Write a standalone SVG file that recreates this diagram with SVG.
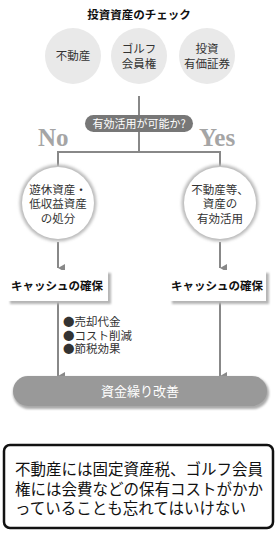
<svg xmlns="http://www.w3.org/2000/svg" width="277" height="533" viewBox="0 0 277 533">
<style>
.t{font-family:"Noto Sans CJK JP","Noto Sans CJK SC",sans-serif;fill:#333;text-anchor:middle}
.s{font-size:11.5px}
.b{font-weight:bold;fill:#111}
.w{fill:#fff}
.big{font-family:"Liberation Serif",serif;font-weight:bold;font-size:25px;fill:#a5a5a5}
.ln{stroke:#888;stroke-width:2;fill:none}
.top{fill:#e9e9e9}
</style>
<defs>
<marker id="ah" viewBox="0 0 10 10" refX="5" refY="9" markerWidth="10" markerHeight="8" orient="auto" markerUnits="userSpaceOnUse"><path d="M0,0 L10,0 L5,9 z" fill="#888"/></marker>
<filter id="glow" x="-30%" y="-30%" width="160%" height="160%"><feGaussianBlur stdDeviation="1.5"/></filter>
<filter id="sh" x="-10%" y="-20%" width="120%" height="140%"><feGaussianBlur stdDeviation="1"/></filter>
</defs>
<rect width="277" height="533" fill="#fff"/>
<text class="t b" x="139" y="19" font-size="11.5">投資資産のチェック</text>
<g id="n1"><circle class="top" cx="73" cy="56" r="28"/><text class="t s" x="73" y="60">不動産</text></g>
<g id="n2"><circle class="top" cx="139" cy="56" r="28"/><text class="t s" x="139" y="53">ゴルフ</text><text class="t s" x="139" y="68">会員権</text></g>
<g id="n3"><circle class="top" cx="207" cy="56" r="28"/><text class="t s" x="207" y="53">投資</text><text class="t s" x="207" y="68">有価証券</text></g>
<g id="connectors">
<path class="ln" d="M139,96 V152 M58,152 H220 M58,151 V166 M220,151 V166"/>
<path class="ln" d="M58,242 V268" marker-end="url(#ah)"/>
<path class="ln" d="M220,242 V268" marker-end="url(#ah)"/>
<path class="ln" d="M58,302 V376" marker-end="url(#ah)"/>
<path class="ln" d="M220,302 V376" marker-end="url(#ah)"/>
</g>
<g id="q"><rect x="85" y="115" width="108" height="17" rx="8.5" fill="#777"/><text class="t w" x="139" y="128" font-size="11">有効活用が可能か?</text></g>
<text class="big" x="38" y="146">No</text>
<text class="big" x="199" y="146">Yes</text>
<g id="no"><circle cx="58" cy="203" r="38.5" fill="#bbb" filter="url(#glow)"/><circle cx="58" cy="203" r="36" fill="#fff"/>
<text class="t s" x="58" y="194">遊休資産・</text><text class="t s" x="58" y="208">低収益資産</text><text class="t s" x="58" y="223">の処分</text></g>
<g id="yes"><circle cx="220" cy="203" r="38.5" fill="#bbb" filter="url(#glow)"/><circle cx="220" cy="203" r="36" fill="#fff"/>
<text class="t s" x="220" y="194">不動産等、</text><text class="t s" x="220" y="208">資産の</text><text class="t s" x="220" y="223">有効活用</text></g>
<g id="c1"><rect x="10" y="273" width="101" height="31" fill="#b5b5b5" filter="url(#sh)"/><rect x="7" y="270" width="101" height="31" fill="#fff"/><text class="t b" x="57" y="290" font-size="11.5">キャッシュの確保</text></g>
<g id="c2"><rect x="172" y="273" width="97" height="31" fill="#b5b5b5" filter="url(#sh)"/><rect x="169" y="270" width="97" height="31" fill="#fff"/><text class="t b" x="217" y="290" font-size="11.5">キャッシュの確保</text></g>
<g id="bul" font-family="Noto Sans CJK JP,sans-serif" font-size="11.5" fill="#333">
<text x="63" y="326">●売却代金</text><text x="63" y="340">●コスト削減</text><text x="63" y="353">●節税効果</text></g>
<g id="res"><rect x="13" y="377" width="256" height="32" rx="16" fill="#aaa" filter="url(#sh)"/><rect x="13" y="376" width="254" height="30" rx="15" fill="#999"/><text class="t w" x="140" y="396" font-size="13">資金繰り改善</text></g>
<g id="note"><rect x="4" y="445" width="269" height="83" rx="6" fill="#fff" stroke="#111" stroke-width="2.5"/>
<g font-family="Noto Sans CJK JP,sans-serif" font-size="15.5" fill="#111">
<text x="15" y="475">不動産には固定資産税、ゴルフ会員</text><text x="15" y="495">権には会費などの保有コストがかか</text><text x="15" y="514">っていることも忘れてはいけない</text></g></g>
</svg>
